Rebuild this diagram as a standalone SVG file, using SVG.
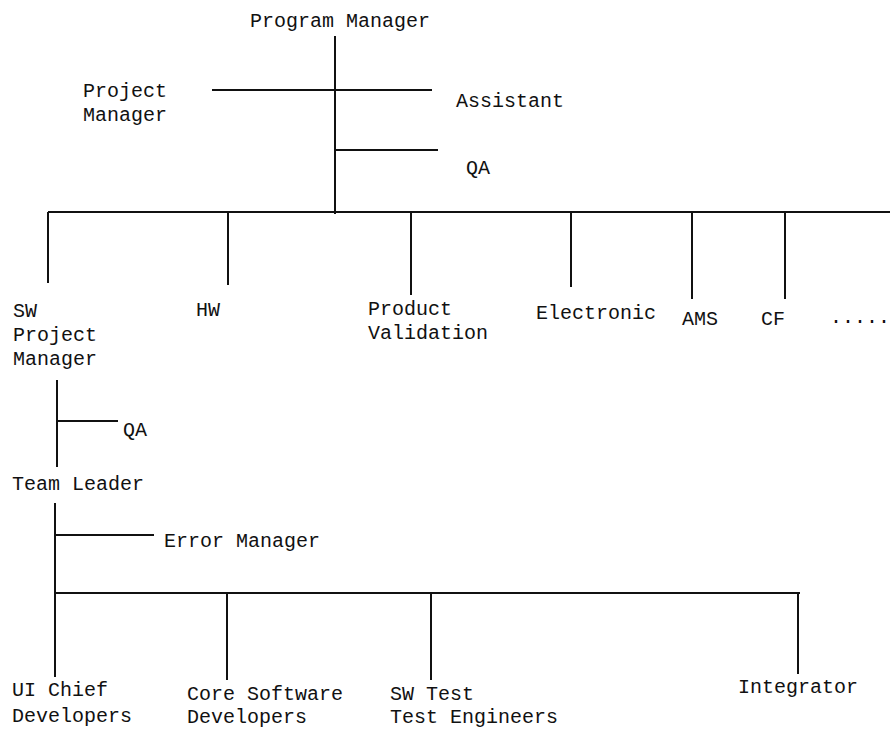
<svg xmlns="http://www.w3.org/2000/svg" width="890" height="733" viewBox="0 0 890 733">
<style>
text{font-family:"Liberation Mono","Courier New",monospace;font-size:20px;fill:#111}
.c line{stroke:#111;stroke-width:2;fill:none}
</style>
<rect width="890" height="733" fill="#fff"/>
<g class="c" id="connectors">
<line x1="335" y1="36" x2="335" y2="214"/>
<line x1="212" y1="90" x2="432" y2="90"/>
<line x1="335" y1="150" x2="438" y2="150"/>
<line x1="48" y1="212" x2="890" y2="212"/>
<line x1="48" y1="212" x2="48" y2="283"/>
<line x1="228" y1="212" x2="228" y2="285"/>
<line x1="411" y1="212" x2="411" y2="295"/>
<line x1="571" y1="212" x2="571" y2="287"/>
<line x1="692" y1="212" x2="692" y2="299"/>
<line x1="785" y1="212" x2="785" y2="299"/>
<line x1="57" y1="380" x2="57" y2="467"/>
<line x1="57" y1="421" x2="118" y2="421"/>
<line x1="55" y1="503" x2="55" y2="677"/>
<line x1="55" y1="535" x2="154" y2="535"/>
<line x1="55" y1="593" x2="800" y2="593"/>
<line x1="227" y1="593" x2="227" y2="680"/>
<line x1="431" y1="593" x2="431" y2="680"/>
<line x1="798" y1="593" x2="798" y2="674"/>
</g>
<g id="program-manager"><text x="250" y="27">Program Manager</text></g>
<g id="project-manager"><text x="83" y="97">Project</text><text x="83" y="121">Manager</text></g>
<g id="assistant"><text x="456" y="107">Assistant</text></g>
<g id="qa-top"><text x="466" y="174">QA</text></g>
<g id="sw-pm"><text x="13" y="317">SW</text><text x="13" y="341">Project</text><text x="13" y="365">Manager</text></g>
<g id="hw"><text x="196" y="316">HW</text></g>
<g id="product-validation"><text x="368" y="315">Product</text><text x="368" y="339">Validation</text></g>
<g id="electronic"><text x="536" y="319">Electronic</text></g>
<g id="ams"><text x="682" y="325">AMS</text></g>
<g id="cf"><text x="761" y="325">CF</text></g>
<g id="more"><text x="830" y="323">.....</text></g>
<g id="qa-sw"><text x="123" y="436">QA</text></g>
<g id="team-leader"><text x="12" y="490">Team Leader</text></g>
<g id="error-manager"><text x="164" y="547">Error Manager</text></g>
<g id="ui-chief"><text x="12" y="696">UI Chief</text><text x="12" y="722">Developers</text></g>
<g id="core-sw"><text x="187" y="700">Core Software</text><text x="187" y="723">Developers</text></g>
<g id="sw-test"><text x="390" y="700">SW Test</text><text x="390" y="723">Test Engineers</text></g>
<g id="integrator"><text x="738" y="693">Integrator</text></g>
</svg>
